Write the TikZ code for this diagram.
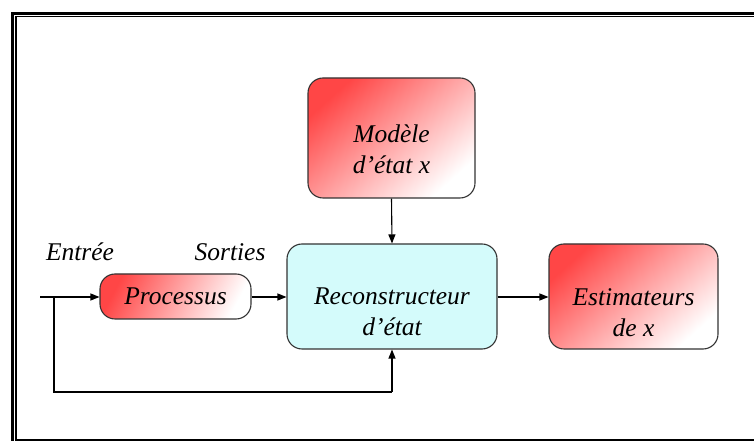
\documentclass[tikz,border=0pt]{standalone}
\usepackage{fontspec}
\setmainfont{Liberation Serif}
\usetikzlibrary{arrows.meta}
\definecolor{boxred}{HTML}{FF4646}
\definecolor{boxcyan}{HTML}{D4FBFB}
\definecolor{edgegray}{HTML}{333333}
\tikzset{
  lbl/.style={font=\fontsize{25.5}{31}\selectfont\itshape, align=center, inner sep=0pt},
  boxbase/.style={draw=edgegray, line width=1.1pt, rounded corners=15pt, inner sep=0pt},
  redbox/.style={boxbase, top color=boxred, bottom color=white, shading angle=42},
  cyanbox/.style={boxbase, fill=boxcyan},
  link/.style={line width=1.1pt, -{Triangle[length=9pt,width=7pt]}},
  wire/.style={line width=1.1pt}
}
\begin{document}
\begin{tikzpicture}[x=1pt,y=1pt]
  \useasboundingbox (0,0) rectangle (754,441);
  % outer frame: heavy rule plus thin inner rule, open to the right
  \draw[line width=3pt] (12.5,0) -- (12.5,427.5) -- (754,427.5);
  \draw[line width=1.3pt] (16,0) -- (16,424.3) -- (754,424.3);
  \draw[line width=1.3pt] (16,1) -- (754,1);

  % blocks
  \node[redbox, minimum width=167pt, minimum height=120pt] (modele) at (391.5,303) {};
  \node[cyanbox, minimum width=210pt, minimum height=105pt] (recon) at (392,144.5) {};
  \node[redbox, minimum width=169pt, minimum height=105pt] (estim) at (633.5,144.5) {};
  \node[redbox, minimum width=151pt, minimum height=45pt, shading angle=62] (proc) at (175.5,144.5) {};

  % block captions
  \node[lbl] (modele-t) at ([yshift=-11pt]modele.center) {Modèle\\d’état x};
  \node[lbl] (recon-t) at ([yshift=-15.5pt]recon.center) {Reconstructeur\\d’état};
  \node[lbl] (estim-t) at ([yshift=-16pt]estim.center) {Estimateurs\\de x};
  \node[lbl] (proc-t) at (proc.center) {Processus};

  % signal labels
  \node[lbl] (entree) at (80,189) {Entrée};
  \node[lbl] (sorties) at (230,189) {Sorties};

  % input, feedback branch and connectors
  \coordinate (in) at (40,144);
  \coordinate (split) at (54,144);
  \coordinate (loopl) at (54,49);
  \coordinate (loopr) at (recon.south |- loopl);
  \draw[link] (in) -- (proc.west |- in);
  \draw[wire] (split) -- (loopl) -- (loopr);
  \draw[link] (loopr) -- (recon.south);
  \draw[link] (proc.east |- in) -- (recon.west |- in);
  \draw[link] (recon.east |- in) -- (estim.west |- in);
  \draw[link] (modele.south) -- (recon.north);
\end{tikzpicture}
\end{document}
